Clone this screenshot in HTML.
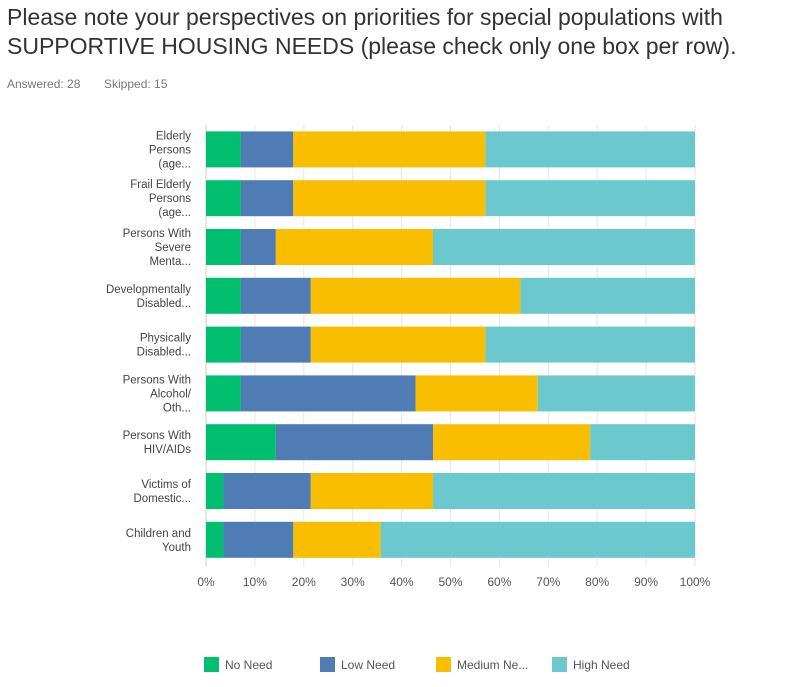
<!DOCTYPE html>
<html><head><meta charset="utf-8"><style>
body{margin:0;background:#fff;font-family:"Liberation Sans",sans-serif;}
#wrap{position:relative;width:805px;height:687px;overflow:hidden;}
.title{position:absolute;left:7px;top:3px;font-size:23px;line-height:29px;color:#333;}
.meta{position:absolute;top:77px;font-size:12px;color:#777;}
</style></head><body>
<div id="wrap">
<div class="title">Please note your perspectives on priorities for special populations with<br>SUPPORTIVE HOUSING NEEDS (please check only one box per row).</div>
<div class="meta" style="left:7px">Answered: 28</div>
<div class="meta" style="left:104px">Skipped: 15</div>
<svg id="chart" width="805" height="687" style="position:absolute;left:0;top:0"></svg>
</div>
<script>
const categories=[["Elderly","Persons","(age..."],["Frail Elderly","Persons","(age..."],["Persons With","Severe","Menta..."],["Developmentally","Disabled..."],["Physically","Disabled..."],["Persons With","Alcohol/","Oth..."],["Persons With","HIV/AIDs"],["Victims of","Domestic..."],["Children and","Youth"]];
const noNeed=[7.14,7.14,7.14,7.14,7.14,7.14,14.29,3.57,3.57];
const lowNeed=[10.71,10.71,7.14,14.29,14.29,35.71,32.14,17.86,14.29];
const mediumNeed=[39.29,39.29,32.14,42.86,35.71,25.0,32.14,25.0,17.86];
const highNeed=[42.86,42.86,53.57,35.71,42.86,32.14,21.43,53.57,64.29];
const tickLabels=["0%","10%","20%","30%","40%","50%","60%","70%","80%","90%","100%"];
const seriesNames=["No Need","Low Need","Medium Ne...","High Need"];
const colors=["#00bf6f","#507cb6","#f9be00","#6bc8cd"];
const svg=document.getElementById('chart');const NS="http://www.w3.org/2000/svg";
const x0=206,x1=695,top0=125,band=48.8,bh=36;
const xs=v=>x0+(x1-x0)*v/100;
function mk(t,a){const e=document.createElementNS(NS,t);for(const k in a)e.setAttribute(k,a[k]);svg.appendChild(e);return e;}
tickLabels.forEach((t,i)=>{const x=xs(i*10);
const g=mk('line',{x1:x,x2:x,y1:top0,y2:top0+band*9+2,stroke:i==0?'#ccc':'#e6e6e6','stroke-width':1});

const tx=mk('text',{x:x,y:586,'font-size':12,fill:'#555','text-anchor':'middle'});tx.textContent=t;
});
const series=[noNeed,lowNeed,mediumNeed,highNeed];
categories.forEach((c,i)=>{const yc=top0+band*i+band/2;let acc=0;
series.forEach((s,j)=>{const r=mk('rect',{x:xs(acc),y:yc-bh/2,width:xs(acc+s[i])-xs(acc),height:bh,fill:colors[j]});acc+=s[i];
});
const n=c.length;c.forEach((l,k)=>{const t=mk('text',{x:191,y:yc+4+(k-(n-1)/2)*14,'font-size':11.5,fill:'#444','text-anchor':'end'});t.textContent=l;
});});
const lx=[204,320,436,552];
seriesNames.forEach((n,j)=>{const r=mk('rect',{x:lx[j],y:657,width:15,height:15,fill:colors[j]});

const t=mk('text',{x:lx[j]+21,y:669,'font-size':12,fill:'#555'});t.textContent=n;
});
</script>
</body></html>
